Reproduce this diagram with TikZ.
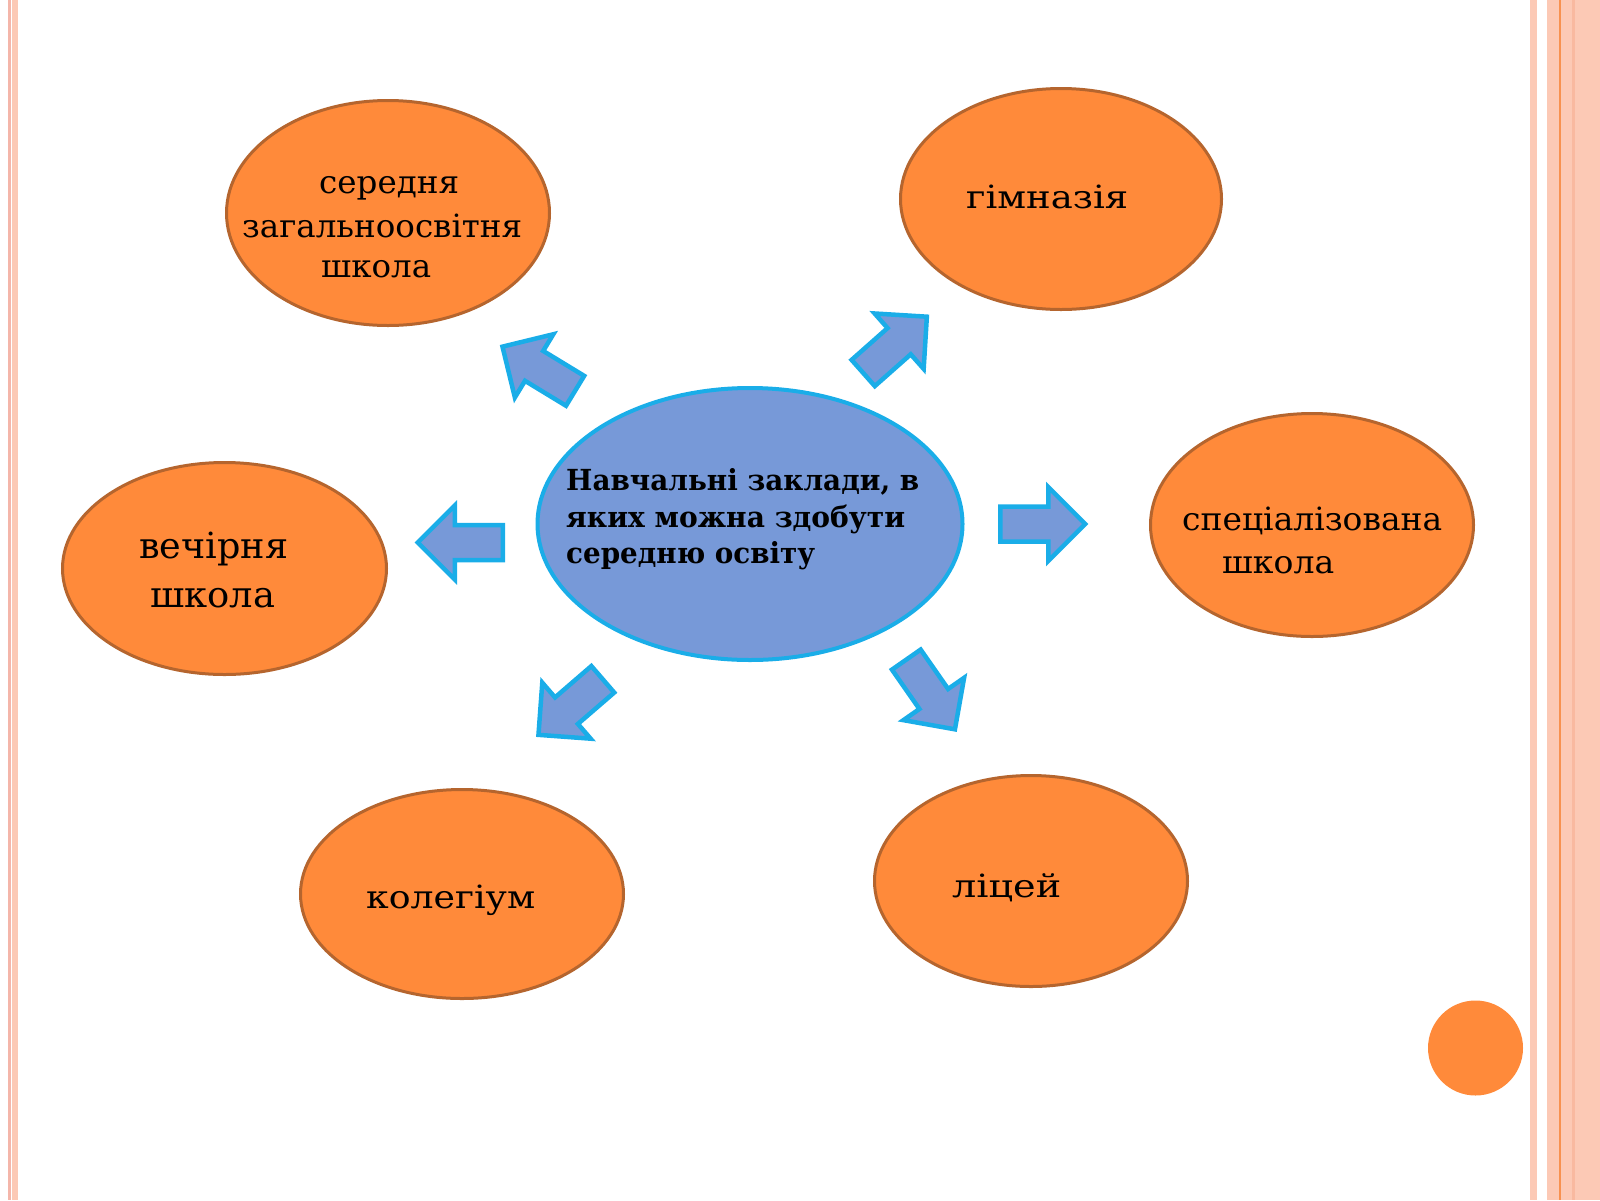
\documentclass[tikz,border=0pt]{standalone}
\usepackage{graphicx}
\usepackage{fontspec}
\setmainfont{DejaVu Serif}
\usetikzlibrary{shapes.geometric}
\definecolor{orfill}{HTML}{FF8A3A}
\definecolor{orline}{HTML}{B5652E}
\definecolor{blfill}{HTML}{7799D8}
\definecolor{blline}{HTML}{1AADE8}
\definecolor{salmon}{HTML}{FCC9B5}
\definecolor{pinkstripe}{HTML}{F4B6AA}
\definecolor{orstripe}{HTML}{F8914F}
\definecolor{faintline}{HTML}{F9B9A0}
\newcommand{\fitw}[2]{\resizebox{#1}{\height}{#2}}
\tikzset{
  bubble/.style={ellipse, draw=orline, fill=orfill, line width=3pt, inner sep=0pt},
  hub/.style={ellipse, draw=blline, fill=blfill, line width=4pt, inner sep=0pt},
  lbl/.style={anchor=base west, inner sep=0pt, font=\fontsize{32}{38}\selectfont},
  biglbl/.style={anchor=base west, inner sep=0pt, font=\fontsize{36}{43}\selectfont},
  hublbl/.style={anchor=base west, inner sep=0pt, font=\bfseries\fontsize{29}{34}\selectfont},
  blockarrow/.pic={\draw[draw=blline, fill=blfill, line width=4.5pt, line join=miter]
    (0,17.5) -- (48,17.5) -- (48,37) -- (85,0) -- (48,-37) -- (48,-17.5) -- (0,-17.5) -- cycle;}
}
\begin{document}
\begin{tikzpicture}[x=1pt,y=-1pt]
\useasboundingbox (0,0) rectangle (1600,1200);
% page border stripes
\fill[pinkstripe] (8,0) rectangle (10.5,1200);
\fill[salmon] (12,0) rectangle (18,1200);
\fill[salmon] (1530,0) rectangle (1537,1200);
\fill[salmon] (1547,0) rectangle (1600,1200);
\fill[orstripe] (1559,0) rectangle (1561,1200);
\fill[faintline] (1572,0) rectangle (1574.5,1200);
% small circle
\fill[orfill] (1475.5,1048) circle[radius=47.5];
% ellipses
\node[bubble, minimum width=323pt, minimum height=225pt] (e1) at (388,213) {};
\node[bubble, minimum width=321pt, minimum height=221pt] (e2) at (1061,199) {};
\node[bubble, minimum width=323pt, minimum height=223pt] (e3) at (1312,525) {};
\node[bubble, minimum width=313pt, minimum height=211pt] (e4) at (1031,881) {};
\node[bubble, minimum width=323pt, minimum height=209pt] (e5) at (462,894) {};
\node[bubble, minimum width=324pt, minimum height=212pt] (e6) at (224.5,568.5) {};
\node[hub, minimum width=425pt, minimum height=272pt] (c) at (750,524) {};
% labels
\node[lbl] (t1a) at (319,193) {\fitw{140pt}{середня}};
\node[lbl] (t1b) at (242,237) {\fitw{280pt}{загальноосвітня}};
\node[lbl] (t1c) at (321,277) {\fitw{110pt}{школа}};
\node[lbl] (t2) at (966,208) {\fitw{162pt}{гімназія}};
\node[lbl] (t3a) at (1182,530) {\fitw{260pt}{спеціалізована}};
\node[lbl] (t3b) at (1222,573) {\fitw{112pt}{школа}};
\node[lbl] (t4) at (952,897) {\fitw{109pt}{ліцей}};
\node[lbl] (t5) at (366,908.6) {\fitw{169pt}{колегіум}};
\node[biglbl] (t6a) at (139,558) {\fitw{149pt}{вечірня}};
\node[biglbl] (t6b) at (150,607) {\fitw{125pt}{школа}};
\node[hublbl] (tc1) at (566,490) {\fitw{353pt}{Навчальні заклади, в}};
\node[hublbl] (tc2) at (566,527) {\fitw{339pt}{яких можна здобути}};
\node[hublbl] (tc3) at (566,563) {\fitw{249pt}{середню освіту}};
% block arrows
\pic[rotate=148.7] at (575.1,390.8) {blockarrow};
\pic[rotate=41.5] at (863.2,373) {blockarrow};
\pic[rotate=180] at (502.75,542.5) {blockarrow};
\pic[rotate=0] at (1000.25,524) {blockarrow};
\pic[rotate=220.8] at (602.8,679.3) {blockarrow};
\pic[rotate=-55.1] at (906.3,659.6) {blockarrow};
\end{tikzpicture}
\end{document}
